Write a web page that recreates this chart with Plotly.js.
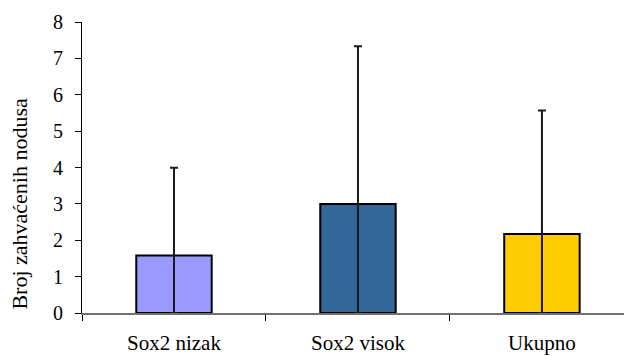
<!DOCTYPE html>
<html>
<head>
<meta charset="utf-8">
<script src="https://cdn.plot.ly/plotly-3.0.1.min.js"></script>
<style>html,body{margin:0;padding:0;background:#fff;}#chart{width:624px;height:356px;}</style>
</head>
<body>
<div id="chart"></div>
<script>
const categories = ["Sox2 nizak", "Sox2 visok", "Ukupno"];
const means = [1.58, 3.0, 2.17];
const sdUp = [2.41, 4.33, 3.4];
const barColors = ["#9999FF", "#336699", "#FFCC00"];
const yTicks = [0, 1, 2, 3, 4, 5, 6, 7, 8];
const yTitle = "Broj zahvaćenih nodusa";

const serif = "Liberation Serif";

const trace = {
  type: "bar",
  x: categories,
  y: means,
  width: 0.41,
  marker: { color: barColors, line: { color: "#000", width: 2 } },
  error_y: {
    type: "data",
    symmetric: false,
    array: sdUp,
    arrayminus: means,
    color: "#1a1a1a",
    thickness: 2,
    width: 4
  },
  hoverinfo: "none"
};

const layout = {
  width: 624,
  height: 356,
  margin: { l: 82, r: 0, t: 22, b: 43 },
  paper_bgcolor: "#fff",
  plot_bgcolor: "#fff",
  showlegend: false,
  font: { family: serif, size: 20, color: "#000" },
  xaxis: {
    type: "category",
    range: [-0.5, 2.446],
    showline: true,
    linecolor: "#707070",
    linewidth: 2,
    ticks: "outside",
    tickson: "boundaries",
    ticklen: 6,
    tickcolor: "#000",
    tickwidth: 1,
    showgrid: false,
    zeroline: false,
    ticklabelstandoff: 10,
    tickfont: { family: serif, size: 21, color: "#000" },
    automargin: false
  },
  yaxis: {
    range: [0, 8],
    tickvals: yTicks,
    ticktext: yTicks.map(String),
    showline: true,
    linecolor: "#000",
    linewidth: 1,
    ticks: "outside",
    ticklen: 6,
    tickcolor: "#000",
    showgrid: false,
    zeroline: false,
    ticklabelstandoff: 8,
    tickfont: { family: serif, size: 20, color: "#000" },
    automargin: false
  },
  annotations: [{
    text: yTitle,
    xref: "paper", yref: "paper",
    x: -0.1144, y: 0.376,
    xanchor: "center", yanchor: "middle",
    textangle: -90,
    showarrow: false,
    font: { family: serif, size: 22, color: "#000" }
  }]
};

Plotly.newPlot("chart", [trace], layout, { staticPlot: true, displayModeBar: false });
</script>
</body>
</html>
